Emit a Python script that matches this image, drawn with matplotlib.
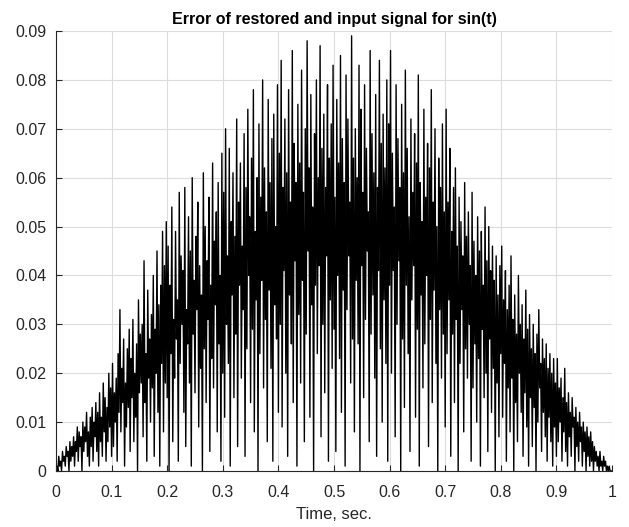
import numpy as np
import matplotlib
matplotlib.use("Agg")
import matplotlib.pyplot as plt

# Estimated error values (in thousandths), read segment by segment (each segment = 0.1 s)
seg0 = [1,0,3,1,2,0,4,2,3,1,5,3,4,0,6,2,5,3,7,1,6,4,9,2,8,5,7,0,10,4,9,6,12,3,8,1,11,5,13,2,10,7,14,4,12,1,16,6,11,3,18,8,15,2,13,6,20,9,17,3]
seg1 = [22,5,16,10,19,2,24,12,33,8,21,14,27,1,18,9,25,13,29,4,23,15,31,6,20,11,26,0,35,16,28,18,30,7,43,14,24,2,37,19,27,10,32,17,40,3,29,20,45,12,34,1,38,22,49,8,42,18,51,15]
seg2 = [46,0,38,24,54,6,31,19,49,27,35,2,57,22,44,30,41,12,58,5,33,26,52,18,45,1,60,28,39,16,48,33,55,9,42,21,36,0,61,25,50,14,43,31,56,4,38,23,63,17,47,34,53,8,59,26,40,2,65,20]
seg3 = [57,11,70,30,44,22,66,1,51,36,61,15,48,28,72,5,55,38,63,19,46,33,69,3,58,25,74,40,52,14,64,29,78,8,49,35,60,0,71,24,56,39,80,17,62,31,53,6,76,37,59,21,68,2,73,34,50,27,79,12]
seg4 = [65,30,84,9,58,41,72,20,61,3,78,36,55,26,86,14,67,43,59,1,75,32,63,18,82,39,57,6,70,28,88,45,62,11,77,34,54,0,69,38,80,24,60,42,87,7,66,30,73,16,58,44,79,2,64,35,71,21,83,29]
seg5 = [56,4,76,40,63,23,85,12,68,37,59,1,81,33,72,44,55,18,89,27,64,8,70,39,60,26,83,0,74,42,57,15,79,31,66,45,53,6,86,28,69,36,61,19,77,3,58,41,84,25,67,10,73,35,62,22,80,2,71,38]
seg6 = [86,20,65,41,54,7,79,30,68,43,58,0,75,27,61,13,82,38,66,24,52,4,72,35,57,42,69,11,63,29,81,1,59,36,51,17,74,26,56,40,67,5,62,31,78,14,55,37,70,22,50,0,64,33,58,19,71,28,53,9]
seg7 = [74,24,55,35,66,3,49,28,58,14,62,31,46,0,56,22,51,33,44,8,59,25,48,19,53,30,42,2,57,17,47,26,40,10,52,23,45,1,49,29,38,15,54,20,43,4,50,27,41,12,46,21,39,0,44,18,36,7,42,24]
seg8 = [46,11,35,22,41,2,33,17,38,8,44,19,31,0,36,14,28,6,40,20,30,12,34,3,27,16,37,9,29,1,32,15,25,5,30,13,24,0,28,10,33,17,22,4,27,12,23,7,26,2,21,11,24,6,20,1,23,9,18,3]
seg9 = [23,6,17,10,19,2,15,8,21,4,14,1,16,7,12,3,15,9,11,0,13,5,10,2,12,6,9,1,10,4,8,0,9,3,7,1,8,2,6,0,5,2,4,1,3,0,4,1,2,0,3,1,2,0,1,0,1,0,0,0]

err = np.array([0] + seg0 + seg1 + seg2 + seg3 + seg4 + seg5 + seg6 + seg7 + seg8 + seg9, dtype=float) / 1000.0
t = np.linspace(0, 1, len(err))

xticks = [0, 0.1, 0.2, 0.3, 0.4, 0.5, 0.6, 0.7, 0.8, 0.9, 1]
xticklabels = ["0", "0.1", "0.2", "0.3", "0.4", "0.5", "0.6", "0.7", "0.8", "0.9", "1"]
yticks = [0, 0.01, 0.02, 0.03, 0.04, 0.05, 0.06, 0.07, 0.08, 0.09]
yticklabels = ["0", "0.01", "0.02", "0.03", "0.04", "0.05", "0.06", "0.07", "0.08", "0.09"]

plt.rcParams['font.family'] = ['Liberation Sans', 'DejaVu Sans']

fig = plt.figure(figsize=(6.29, 5.27), dpi=100)
ax = fig.add_axes([56/629, 56/527, (612-56)/629, (471-31)/527])

ax.plot(t, err, color='black', linewidth=1.0)

ax.set_xlim(0, 1)
ax.set_ylim(0, 0.09)
ax.set_xticks(xticks)
ax.set_xticklabels(xticklabels)
ax.set_yticks(yticks)
ax.set_yticklabels(yticklabels)

ax.grid(True, color='#dcdcdc', linewidth=0.8)
ax.set_axisbelow(True)
for s in ['top', 'right']:
    ax.spines[s].set_visible(False)
for s in ['left', 'bottom']:
    ax.spines[s].set_color('#262626')
    ax.spines[s].set_linewidth(0.8)

ax.tick_params(direction='in', length=4, width=0.8, colors='#262626', labelsize=11.5)
ax.tick_params(axis='x', pad=10)
ax.tick_params(axis='y', pad=7)

ax.set_title("Error of restored and input signal for sin(t)", fontsize=11.5, fontweight='bold', pad=5)
ax.set_xlabel("Time, sec.", fontsize=12, color='#262626', labelpad=5)

fig.savefig("out.png", dpi=100)
